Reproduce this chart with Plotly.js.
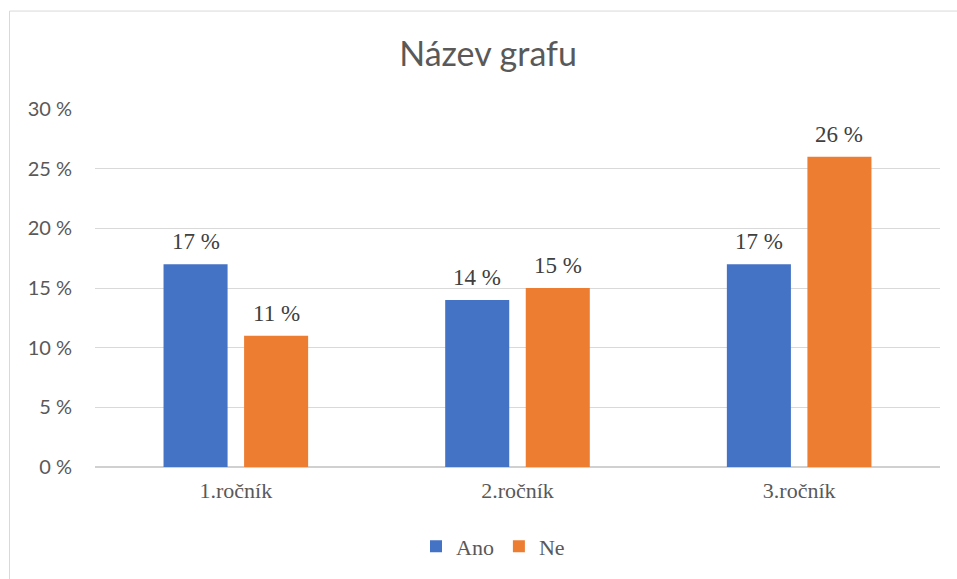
<!DOCTYPE html>
<html><head><meta charset="utf-8">
<script src="https://cdn.plot.ly/plotly-3.0.1.min.js"></script>
<style>body{margin:0;padding:0;background:#fff}#chart{width:957px;height:579px}</style>
</head><body><div id="chart"></div>
<script>
const categories = ["1.ročník", "2.ročník", "3.ročník"];
const seriesNames = ["Ano", "Ne"];
const ano = [17, 14, 17];
const ne = [11, 15, 26];
const colors = ["#4472C4", "#ED7D31"];
const yTicks = [0, 5, 10, 15, 20, 25, 30];

const W = 957, H = 579;
const m = {l: 95, r: 17, t: 109, b: 110};
const pw = W - m.l - m.r, ph = H - m.t - m.b;
const SERIF = '"Liberation Serif", "Times New Roman", "DejaVu Serif", serif';

const traces = [ano, ne].map((vals, i) => ({
  type: 'bar', name: seriesNames[i], x: categories, y: vals,
  marker: {color: colors[i]},
  hoverinfo: 'none'
}));

const annotations = [];
const offsets = [-0.143, 0.143];
[ano, ne].forEach((vals, i) => {
  vals.forEach((v, j) => {
    annotations.push({x: j + offsets[i], y: v, xref: 'x', yref: 'y', text: v + ' %',
      showarrow: false, yanchor: 'bottom', yshift: 8,
      font: {family: SERIF, size: 23, color: '#404040'}});
  });
});

const px = (x) => (x - m.l) / pw, py = (y) => 1 - (y - m.t) / ph;

const layout = {
  width: W, height: H, margin: m,
  paper_bgcolor: '#fff', plot_bgcolor: '#fff',
  title: {text: 'Název grafu', x: 0.51, xanchor: 'center', y: 1 - 54/H, yanchor: 'middle',
    font: {family: 'Lato', size: 34, color: '#595959'}},
  barmode: 'group', bargap: 0.428, bargroupgap: 0.205,
  xaxis: {type: 'category', showgrid: false, zeroline: false, showline: false, ticks: '',
    tickfont: {family: SERIF, size: 22, color: '#595959'},
    ticklabelstandoff: 8, fixedrange: true},
  yaxis: {range: [0, 30], tickvals: yTicks, ticktext: yTicks.map(v => v + ' %'),
    showgrid: true, gridcolor: '#d9d9d9', gridwidth: 1, zeroline: true, zerolinecolor: '#d0d0d0', zerolinewidth: 1.5,
    showline: false, ticks: '',
    tickfont: {family: 'Lato', size: 20, color: '#595959'},
    ticklabelstandoff: 22, fixedrange: true},
  showlegend: true,
  legend: {orientation: 'h', x: px(493), xanchor: 'center', y: py(549), yanchor: 'middle',
    font: {family: SERIF, size: 22, color: '#595959'},
    itemwidth: 30, itemsizing: 'constant', traceorder: 'normal'},
  annotations: annotations,
  shapes: [{type: 'rect', xref: 'paper', yref: 'paper', x0: px(9.5), y0: py(10.5), x1: px(W + 5), y1: py(H + 5),
    line: {color: '#d9d9d9', width: 1}, fillcolor: 'rgba(0,0,0,0)', layer: 'below'}]
};

Plotly.newPlot('chart', traces, layout, {displayModeBar: false, staticPlot: true});
</script></body></html>
